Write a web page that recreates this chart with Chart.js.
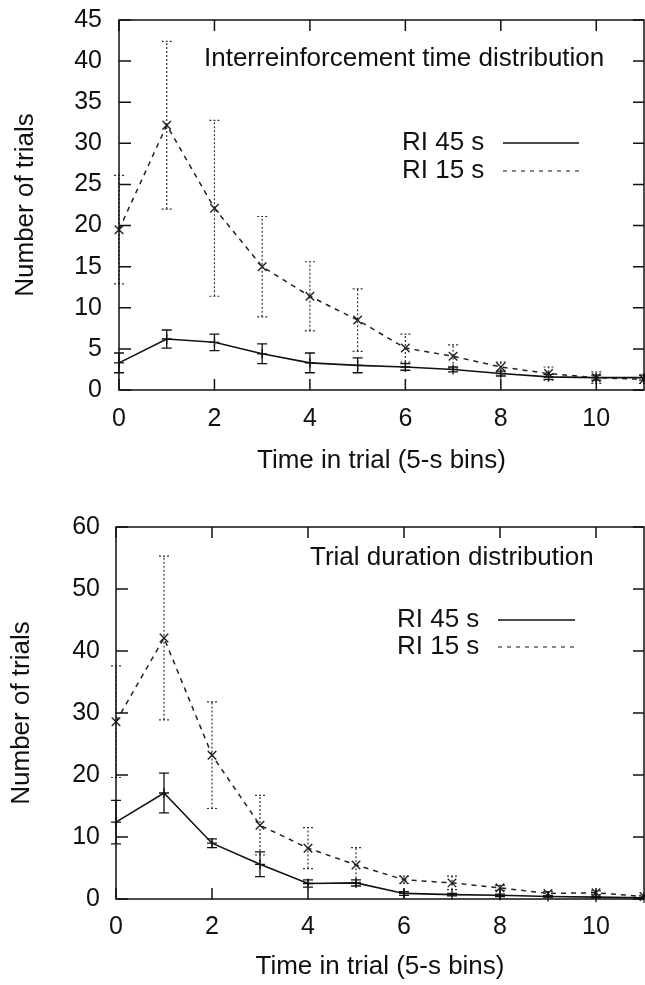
<!DOCTYPE html>
<html>
<head>
<meta charset="utf-8">
<script src="https://cdn.jsdelivr.net/npm/chart.js@4.4.1/dist/chart.umd.min.js"></script>
<style>
  body { margin: 0; background: #fff; width: 645px; height: 985px; overflow: hidden; position: relative; }
  canvas { position: absolute; left: 0; }
</style>
</head>
<body>
<canvas id="irtChart" width="645" height="490" style="top:0px"></canvas>
<canvas id="durChart" width="645" height="495" style="top:490px"></canvas>
<script>
// bins of 5 s
var bins = [0, 1, 2, 3, 4, 5, 6, 7, 8, 9, 10, 11];
var xTicks = [0, 2, 4, 6, 8, 10];

// interreinforcement time distribution
var irt45 = [3.3, 6.2, 5.8, 4.4, 3.3, 3.0, 2.8, 2.5, 2.0, 1.6, 1.5, 1.5];
var irt45Err = [1.2, 1.1, 1.0, 1.2, 1.2, 0.9, 0.4, 0.3, 0.3, 0.3, 0.3, 0.3];
var irt15 = [19.5, 32.2, 22.1, 15.0, 11.4, 8.5, 5.1, 4.1, 2.8, 2.0, 1.5, 1.3];
var irt15Err = [6.6, 10.2, 10.7, 6.1, 4.2, 3.8, 1.7, 1.4, 0.6, 0.8, 0.7, 0.5];
var irtYTicks = [0, 5, 10, 15, 20, 25, 30, 35, 40, 45];

// trial duration distribution
var dur45 = [12.4, 17.1, 9.0, 5.6, 2.5, 2.6, 0.9, 0.7, 0.6, 0.4, 0.3, 0.2];
var dur45Err = [3.5, 3.2, 0.7, 2.0, 0.6, 0.5, 0.3, 0.2, 0.2, 0.1, 0.1, 0.1];
var dur15 = [28.6, 42.1, 23.2, 11.9, 8.2, 5.5, 3.1, 2.6, 1.8, 0.9, 1.0, 0.4];
var dur15Err = [9.0, 13.2, 8.6, 4.8, 3.3, 2.8, 0.6, 1.1, 0.4, 0.3, 0.3, 0.2];
var durYTicks = [0, 10, 20, 30, 40, 50, 60];

var seriesNames = ['RI 45 s', 'RI 15 s'];
var FONT = '"Liberation Sans", Arial, Helvetica, sans-serif';
var INK = '#111';

function toXY(vals) {
  return bins.map(function (b, i) { return { x: b, y: vals[i] }; });
}

// error bars, box, inward ticks, inner title and legend (gnuplot look)
var gnuplotLook = {
  id: 'gnuplotLook',
  beforeDatasetsDraw: function (chart) {
    var ctx = chart.ctx, xs = chart.scales.x, ys = chart.scales.y;
    ctx.save();
    chart.data.datasets.forEach(function (ds) {
      ctx.strokeStyle = ds.errColor;
      ctx.lineWidth = ds.errWidth;
      ctx.setLineDash(ds.errDash);
      ds.data.forEach(function (p, i) {
        var e = ds.errors[i];
        var px = xs.getPixelForValue(p.x);
        var y1 = ys.getPixelForValue(Math.max(0, p.y - e));
        var y2 = ys.getPixelForValue(p.y + e);
        ctx.beginPath();
        ctx.moveTo(px, y1); ctx.lineTo(px, y2);
        ctx.moveTo(px - 5, y1); ctx.lineTo(px + 5, y1);
        ctx.moveTo(px - 5, y2); ctx.lineTo(px + 5, y2);
        ctx.stroke();
      });
    });
    ctx.restore();
  },
  afterDraw: function (chart) {
    var ctx = chart.ctx, a = chart.chartArea, xs = chart.scales.x, ys = chart.scales.y;
    var o = chart.options.plugins.gnuplotLook;
    ctx.save();
    ctx.strokeStyle = INK;
    ctx.lineWidth = 1.5;
    ctx.setLineDash([]);
    ctx.strokeRect(a.left, a.top, a.right - a.left, a.bottom - a.top);
    ctx.beginPath();
    ys.ticks.forEach(function (t) {
      var py = ys.getPixelForValue(t.value);
      ctx.moveTo(a.left, py); ctx.lineTo(a.left + 12, py);
      ctx.moveTo(a.right, py); ctx.lineTo(a.right - 11, py);
    });
    xs.ticks.forEach(function (t) {
      var px = xs.getPixelForValue(t.value);
      ctx.moveTo(px, a.bottom); ctx.lineTo(px, a.bottom - 11);
      ctx.moveTo(px, a.top); ctx.lineTo(px, a.top + 11);
    });
    ctx.stroke();

    ctx.fillStyle = INK;
    ctx.font = '26px ' + FONT;
    ctx.textBaseline = 'middle';
    ctx.textAlign = 'left';
    ctx.fillText(o.title, o.titleX, o.titleY);
    ctx.fillText(seriesNames[0], o.legendX, o.legendY[0]);
    ctx.fillText(seriesNames[1], o.legendX, o.legendY[1]);

    ctx.lineWidth = 1.5;
    ctx.beginPath();
    ctx.moveTo(o.lineX[0], o.legendY[0]); ctx.lineTo(o.lineX[1], o.legendY[0]);
    ctx.stroke();
    ctx.lineWidth = 1.2;
    ctx.setLineDash([4, 5]);
    ctx.beginPath();
    ctx.moveTo(o.lineX[0], o.legendY[1]); ctx.lineTo(o.lineX[1], o.legendY[1]);
    ctx.stroke();
    ctx.restore();
  }
};

function makeChart(id, cfg) {
  return new Chart(document.getElementById(id), {
    type: 'line',
    data: {
      datasets: [{
        label: seriesNames[0],
        data: toXY(cfg.s45),
        errors: cfg.e45,
        errColor: '#111', errWidth: 1.3, errDash: [],
        borderColor: '#111',
        borderWidth: 1.6,
        pointStyle: 'cross',
        pointRadius: 5,
        pointBorderWidth: 1.3,
        clip: false
      }, {
        label: seriesNames[1],
        data: toXY(cfg.s15),
        errors: cfg.e15,
        errColor: '#333', errWidth: 1.2, errDash: [2, 2],
        borderColor: '#222',
        borderWidth: 1.5,
        borderDash: [5, 5],
        pointStyle: 'crossRot',
        pointRadius: 6,
        pointBorderWidth: 1.4,
        clip: false
      }]
    },
    options: {
      responsive: false,
      animation: false,
      events: [],
      layout: { autoPadding: false, padding: { top: cfg.padTop, right: 1, left: 0, bottom: 0 } },
      plugins: {
        legend: { display: false },
        tooltip: { enabled: false },
        gnuplotLook: cfg.look
      },
      scales: {
        x: {
          type: 'linear', min: 0, max: 11,
          grid: { display: false, drawTicks: false },
          border: { display: false },
          afterBuildTicks: function (s) { s.ticks = xTicks.map(function (v) { return { value: v }; }); },
          afterFit: function (s) { s.height = cfg.xHeight; s.paddingLeft = 0; s.paddingRight = 0; },
          ticks: { padding: cfg.xTickPad, color: INK, font: { family: FONT, size: 25 } },
          title: { display: true, text: 'Time in trial (5-s bins)', color: INK,
                   font: { family: FONT, size: 26 }, padding: { top: 0, bottom: cfg.xTitlePad } }
        },
        y: {
          type: 'linear', min: 0, max: cfg.yTicks[cfg.yTicks.length - 1],
          grid: { display: false, drawTicks: false },
          border: { display: false },
          afterBuildTicks: function (s) { s.ticks = cfg.yTicks.map(function (v) { return { value: v }; }); },
          afterFit: function (s) { s.width = cfg.yWidth; s.paddingTop = 0; s.paddingBottom = 0; },
          ticks: { padding: cfg.yTickPad, color: INK, font: { family: FONT, size: 25 } },
          title: { display: true, text: 'Number of trials', color: INK,
                   font: { family: FONT, size: 26 }, padding: { top: cfg.yTitlePad, bottom: 0 } }
        }
      }
    },
    plugins: [gnuplotLook]
  });
}

makeChart('irtChart', {
  s45: irt45, e45: irt45Err, s15: irt15, e15: irt15Err, yTicks: irtYTicks,
  padTop: 20, xHeight: 100, xTickPad: 14, xTitlePad: 14, yWidth: 119, yTickPad: 17, yTitlePad: 10,
  look: { title: 'Interreinforcement time distribution', titleX: 204, titleY: 59,
          legendX: 402, legendY: [143, 171], lineX: [503, 579] }
});

makeChart('durChart', {
  s45: dur45, e45: dur45Err, s15: dur15, e15: dur15Err, yTicks: durYTicks,
  padTop: 37, xHeight: 86, xTickPad: 13, xTitlePad: 3, yWidth: 116, yTickPad: 16, yTitlePad: 6,
  look: { title: 'Trial duration distribution', titleX: 310, titleY: 68,
          legendX: 397, legendY: [130, 157], lineX: [498, 575] }
});
</script>
</body>
</html>
